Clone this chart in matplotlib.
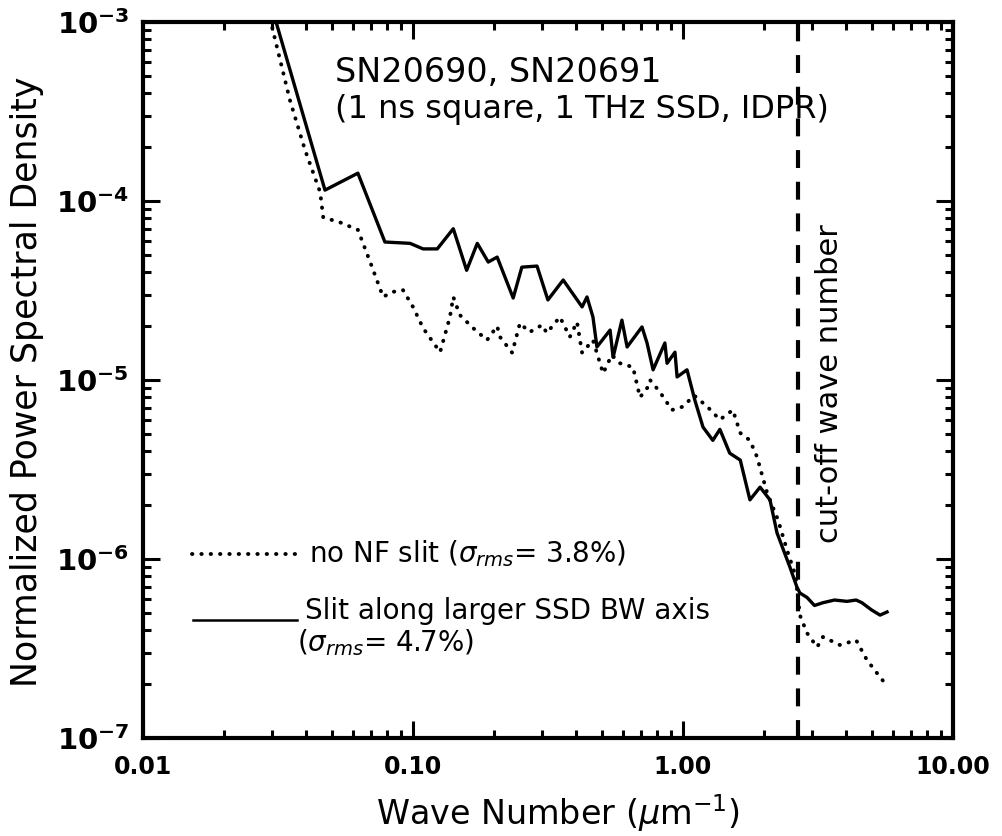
import numpy as np
import matplotlib
matplotlib.use("Agg")
import matplotlib.pyplot as plt
from matplotlib.ticker import LogLocator, FixedLocator, FixedFormatter, NullFormatter

# solid curve: slit along larger SSD BW axis
k_slit = [0.0300, 0.0311, 0.0472, 0.0625, 0.0787, 0.0975, 0.109, 0.123, 0.141, 0.158,
          0.173, 0.190, 0.205, 0.235, 0.253, 0.288, 0.316, 0.360, 0.423, 0.441,
          0.464, 0.480, 0.537, 0.551, 0.594, 0.621, 0.705, 0.736, 0.775, 0.857,
          0.873, 0.934, 0.951, 1.035, 1.107, 1.186, 1.29, 1.37, 1.49, 1.63,
          1.77, 1.93, 2.10, 2.23, 2.49, 2.64, 2.71, 2.88, 3.07, 3.30,
          3.64, 4.05, 4.38, 4.60, 4.99, 5.37, 5.70]
psd_slit = [1.17e-3, 1.0e-3, 1.15e-4, 1.43e-4, 5.9e-5, 5.8e-5, 5.4e-5, 5.4e-5, 7.0e-5, 4.1e-5,
            5.8e-5, 4.56e-5, 4.86e-5, 2.87e-5, 4.27e-5, 4.33e-5, 2.8e-5, 3.62e-5, 2.56e-5, 2.91e-5,
            2.25e-5, 1.53e-5, 1.9e-5, 1.34e-5, 2.16e-5, 1.53e-5, 1.98e-5, 1.61e-5, 1.14e-5, 1.61e-5,
            1.24e-5, 1.43e-5, 1.04e-5, 1.14e-5, 7.7e-6, 5.46e-6, 4.6e-6, 5.3e-6, 3.9e-6, 3.57e-6,
            2.14e-6, 2.52e-6, 2.14e-6, 1.40e-6, 9.0e-7, 7.0e-7, 6.46e-7, 6.1e-7, 5.5e-7, 5.7e-7,
            5.9e-7, 5.8e-7, 5.9e-7, 5.7e-7, 5.2e-7, 4.86e-7, 5.06e-7]

# dotted curve: no NF slit
k_noslit = [0.029, 0.035, 0.0398, 0.0453, 0.0465, 0.0536, 0.0625, 0.0694, 0.0775, 0.0836,
            0.0918, 0.100, 0.109, 0.126, 0.137, 0.141, 0.149, 0.167, 0.188, 0.205,
            0.210, 0.233, 0.249, 0.270, 0.301, 0.313, 0.350, 0.381, 0.405, 0.423,
            0.464, 0.506, 0.545, 0.585, 0.653, 0.693, 0.74, 0.755, 0.82, 0.91,
            1.0, 1.1, 1.23, 1.37, 1.53, 1.63, 1.77, 1.88, 1.94, 2.05,
            2.25, 2.43, 2.61, 2.71, 2.88, 3.14, 3.30, 3.50, 3.81, 4.05,
            4.38, 4.8, 5.37, 5.74]
psd_noslit = [1.17e-3, 3.66e-4, 1.93e-4, 1.12e-4, 8.1e-5, 7.6e-5, 6.9e-5, 4.56e-5, 2.91e-5, 3.1e-5,
              3.18e-5, 2.56e-5, 1.95e-5, 1.43e-5, 2.25e-5, 2.91e-5, 2.31e-5, 1.95e-5, 1.67e-5, 2.0e-5,
              1.74e-5, 1.42e-5, 2.08e-5, 1.85e-5, 2.03e-5, 1.83e-5, 2.25e-5, 1.74e-5, 2.11e-5, 1.42e-5,
              1.67e-5, 1.09e-5, 1.38e-5, 1.24e-5, 1.18e-5, 8.0e-6, 9.1e-6, 1.0e-5, 8.6e-6, 6.8e-6,
              7.1e-6, 8.2e-6, 7.1e-6, 6.0e-6, 6.8e-6, 5.06e-6, 4.6e-6, 3.72e-6, 3.14e-6, 2.34e-6,
              1.65e-6, 1.12e-6, 8.1e-7, 4.86e-7, 3.86e-7, 3.22e-7, 3.67e-7, 3.52e-7, 3.31e-7, 3.4e-7,
              3.52e-7, 2.73e-7, 2.19e-7, 1.93e-7]

k_cutoff = 2.67
x_ticks = [0.01, 0.1, 1.0, 10.0]
x_ticklabels = ["0.01", "0.10", "1.00", "10.00"]

dotted = (0, (0.1, 2.3))

fig = plt.figure(figsize=(10.03, 8.36), dpi=100)
ax = fig.add_axes([0.1426, 0.1172, 0.8075, 0.8565])

ax.plot(k_noslit, psd_noslit, color="black", lw=2.8, ls=dotted, dash_capstyle="round")
ax.plot(k_slit, psd_slit, color="black", lw=2.4)
ax.axvline(k_cutoff, color="black", lw=3, dashes=(4.3, 3.3))

ax.set_xscale("log")
ax.set_yscale("log")
ax.set_xlim(0.01, 10)
ax.set_ylim(1e-7, 1e-3)

ax.xaxis.set_major_locator(FixedLocator(x_ticks))
ax.xaxis.set_major_formatter(FixedFormatter(x_ticklabels))
ax.xaxis.set_minor_locator(LogLocator(base=10, subs=np.arange(2, 10)))
ax.xaxis.set_minor_formatter(NullFormatter())
ax.yaxis.set_minor_locator(LogLocator(base=10, subs=np.arange(2, 10)))
ax.yaxis.set_minor_formatter(NullFormatter())

ax.tick_params(which="both", direction="in", top=True, right=True, width=2.2)
ax.tick_params(which="major", length=12, pad=12)
ax.tick_params(which="minor", length=6)
ax.tick_params(axis="x", labelsize=17)
ax.tick_params(axis="y", labelsize=21, pad=10)
for lab in ax.get_xticklabels() + ax.get_yticklabels():
    lab.set_fontweight("bold")
for sp in ax.spines.values():
    sp.set_linewidth(3)

ax.set_xlabel(r"Wave Number ($\mu$m$^{-1}$)", fontsize=24)
ax.xaxis.set_label_coords(0.512, -0.075)
ax.set_ylabel("Normalized Power Spectral Density", fontsize=25)
ax.yaxis.set_label_coords(-0.122, 0.497)

ax.text(0.237, 0.93, "SN20690, SN20691", transform=ax.transAxes, fontsize=24,
        ha="left", va="center")
ax.text(0.237, 0.878, "(1 ns square, 1 THz SSD, IDPR)", transform=ax.transAxes, fontsize=23,
        ha="left", va="center")
ax.text(0.848, 0.495, "cut-off wave number", transform=ax.transAxes, fontsize=22,
        rotation=90, ha="center", va="center")

# legend drawn by hand like the original
ax.plot([0.06, 0.195], [0.257, 0.257], transform=ax.transAxes, color="black", lw=2.8,
        ls=dotted, dash_capstyle="round")
ax.text(0.205, 0.257, r"no NF slit ($\sigma_{rms}$= 3.8%)", transform=ax.transAxes,
        fontsize=20, ha="left", va="center")
ax.plot([0.062, 0.19], [0.165, 0.165], transform=ax.transAxes, color="black", lw=1.8)
ax.text(0.2, 0.178, "Slit along larger SSD BW axis", transform=ax.transAxes,
        fontsize=20, ha="left", va="center")
ax.text(0.19, 0.133, r"($\sigma_{rms}$= 4.7%)", transform=ax.transAxes,
        fontsize=20, ha="left", va="center")

fig.savefig("out.png", dpi=100)
